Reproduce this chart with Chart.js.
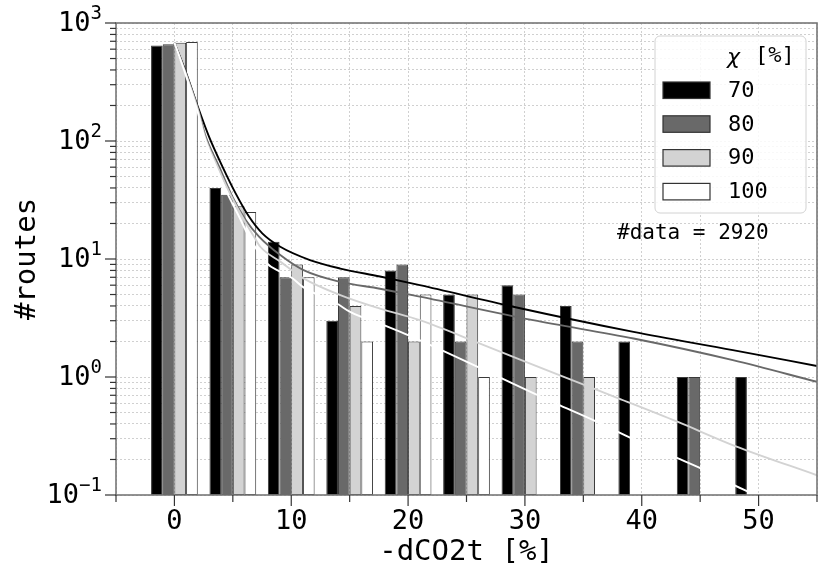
<!DOCTYPE html>
<html>
<head>
<meta charset="utf-8">
<script src="https://cdn.jsdelivr.net/npm/chart.js@4.4.0/dist/chart.umd.min.js"></script>
<style>
  body { margin: 0; background: #fff; }
  #wrap { width: 820px; height: 577px; }
</style>
</head>
<body>
<div id="wrap"><canvas id="chart" width="820" height="577"></canvas></div>
<script>
// bins of -dCO2t [%] and the chi values
var categories = [0, 5, 10, 15, 20, 25, 30, 35, 40, 45, 50];
var seriesLabels = ['70', '80', '90', '100'];

// #routes per bin (null = empty bin)
var routes70  = [646, 40, 14, 3, 8, 5, 6, 4, 2, 1, 1];
var routes80  = [662, 35, 7, 7, 9, 2, 5, 2, null, 1, null];
var routes90  = [680, 28, 9, 4, 2, 5, 1, 1, null, null, null];
var routes100 = [690, 25, 7, 2, 5, 1, null, null, null, null, null];

// fitted curves
var fitX70 = [0, 1, 2, 2.96, 4.1, 5.24, 6.38, 7.52, 9.06, 11.6, 14.2, 17.6, 21, 29, 39.3, 47.8, 55];
var fitY70 = [680, 378, 196, 109, 61, 36, 22.9, 16.5, 12.7, 9.8, 8.3, 7.1, 6.0, 3.94, 2.41, 1.69, 1.24];
var fitX80 = [0, 1, 2, 2.68, 3.82, 4.96, 6.1, 7.24, 9.06, 11.05, 14.2, 17.6, 21, 30.7, 39.3, 47.8, 55];
var fitY80 = [680, 372, 190, 109, 61, 33.8, 21.4, 15.5, 10.8, 8.05, 6.4, 5.6, 4.8, 3.03, 2.12, 1.39, 0.91];
var fitX90 = [0, 1, 2, 2.6, 3.68, 4.75, 5.8, 6.8, 7.35, 9.06, 11.05, 14.2, 17.6, 21, 26, 33, 38, 43, 48, 55];
var fitY90 = [680, 365, 185, 109, 61, 36, 22.9, 15.5, 12.7, 9.5, 6.86, 4.95, 3.8, 3.03, 1.95, 1.03, 0.66, 0.42, 0.26, 0.147];
var fitX100 = [0, 1, 2, 2.54, 3.53, 4.53, 5.53, 6.38, 7.9, 9.06, 10.1, 11.05, 13.9, 15.04, 17.9, 20, 33, 36.2, 39, 43, 45.1, 48, 55];
var fitY100 = [680, 355, 175, 109, 61, 36, 22.9, 15.5, 9.2, 7.8, 6.86, 5.75, 4.2, 3.56, 2.75, 2.26, 0.575, 0.415, 0.306, 0.206, 0.167, 0.12, 0.058];

var yTicks = [0.1, 1, 10, 100, 1000];
var xTicks = [0, 10, 20, 30, 40, 50];
var nData = 2920;

var barColors = ['#000000', '#696969', '#d3d3d3', '#ffffff'];
var lineColors = ['#000000', '#696969', '#d3d3d3', '#ffffff'];
var MONO = '"DejaVu Sans Mono", monospace';

function pts(xs, ys) {
    return xs.map(function (x, i) { return { x: x, y: ys[i] }; });
}

var routes = [routes70, routes80, routes90, routes100];
var fits = [[fitX70, fitY70], [fitX80, fitY80], [fitX90, fitY90], [fitX100, fitY100]];

var datasets = [];
routes.forEach(function (r, k) {
    datasets.push({
        type: 'bar',
        label: seriesLabels[k],
        data: pts(categories, r),
        backgroundColor: barColors[k],
        borderColor: '#3a3a3a',
        borderWidth: 1,
        borderSkipped: false,
        categoryPercentage: 0.8,
        barPercentage: 1.0,
        order: 2
    });
});
fits.forEach(function (f, k) {
    datasets.push({
        type: 'line',
        label: 'fit ' + seriesLabels[k],
        data: pts(f[0], f[1]),
        borderColor: lineColors[k],
        borderWidth: 1.9,
        pointRadius: 0,
        fill: false,
        cubicInterpolationMode: 'monotone',
        order: 1.4 - k * 0.1
    });
});

// frame, tick marks, y labels, legend box and note
var extras = {
    id: 'extras',
    afterDatasetsDraw: function (chart) {
        var a = chart.chartArea, ctx = chart.ctx;
        ctx.save();
        ctx.strokeStyle = '#777';
        ctx.lineWidth = 1.6;
        ctx.strokeRect(a.left, a.top, a.right - a.left, a.bottom - a.top);
        ctx.restore();
    },
    afterDraw: function (chart) {
        var a = chart.chartArea, ctx = chart.ctx;
        var xs = chart.scales.x, ys = chart.scales.y;
        ctx.save();
        ctx.strokeStyle = '#333';
        ctx.lineWidth = 1.2;
        xs.ticks.forEach(function (t) {
            var px = xs.getPixelForValue(t.value);
            var len = xTicks.indexOf(t.value) >= 0 ? 11 : 7;
            ctx.beginPath(); ctx.moveTo(px, a.bottom); ctx.lineTo(px, a.bottom + len); ctx.stroke();
        });
        ys.ticks.forEach(function (t) {
            var py = ys.getPixelForValue(t.value);
            var len = yTicks.indexOf(t.value) >= 0 ? 11 : 6;
            ctx.beginPath(); ctx.moveTo(a.left, py); ctx.lineTo(a.left - len, py); ctx.stroke();
        });

        // y labels as 10 with a raised exponent
        ctx.fillStyle = '#000';
        ctx.textBaseline = 'middle';
        ctx.textAlign = 'left';
        yTicks.forEach(function (v) {
            var py = ys.getPixelForValue(v);
            var ex = String(Math.round(Math.log10(v))).replace('-', '\u2212');
            ctx.font = '19px ' + MONO;
            var ew = ctx.measureText(ex).width;
            ctx.font = '27px ' + MONO;
            var bw = ctx.measureText('10').width;
            var right = a.left - 14;
            ctx.fillText('10', right - ew - bw, py + 1);
            ctx.font = '19px ' + MONO;
            ctx.fillText(ex, right - ew, py - 9);
        });

        // legend
        var bx = 655, by = 36, bw = 151, bh = 177;
        ctx.beginPath();
        ctx.roundRect(bx, by, bw, bh, 5);
        ctx.fillStyle = 'rgba(255,255,255,0.85)';
        ctx.fill();
        ctx.strokeStyle = '#d2d2d2';
        ctx.lineWidth = 1;
        ctx.stroke();

        ctx.fillStyle = '#000';
        ctx.font = 'italic 22px "DejaVu Sans", sans-serif';
        ctx.fillText('χ', 727, 58);
        ctx.font = '22px ' + MONO;
        ctx.fillText('[%]', 755, 56);

        var bars = chart.data.datasets.filter(function (d) { return d.type === 'bar'; });
        ctx.font = '22px ' + MONO;
        bars.forEach(function (d, i) {
            var cy = 90 + i * 33.8;
            ctx.fillStyle = d.backgroundColor;
            ctx.fillRect(663, cy - 8, 47, 16.5);
            ctx.strokeStyle = '#333';
            ctx.lineWidth = 1.2;
            ctx.strokeRect(663, cy - 8, 47, 16.5);
            ctx.fillStyle = '#000';
            ctx.fillText(d.label, 728, cy + 1);
        });

        ctx.font = '21px ' + MONO;
        ctx.fillText('#data = ' + nData, 617, 234);
        ctx.restore();
    }
};

new Chart(document.getElementById('chart'), {
    type: 'bar',
    data: { datasets: datasets },
    plugins: [extras],
    options: {
        responsive: false,
        animation: false,
        layout: { padding: { top: 23, right: 3, left: 0, bottom: 0 } },
        plugins: { legend: { display: false }, tooltip: { enabled: false } },
        scales: {
            x: {
                type: 'linear',
                min: -5, max: 55,
                offset: false,
                grid: {
                    offset: false,
                    color: '#d0d0d0',
                    lineWidth: 1,
                    tickLength: 11,
                    tickColor: 'rgba(0,0,0,0)'
                },
                border: { display: false, dash: [2, 2] },
                ticks: {
                    stepSize: 5,
                    padding: 0,
                    color: '#000',
                    font: { family: MONO, size: 27 },
                    maxRotation: 0,
                    autoSkip: false,
                    callback: function (v) { return xTicks.indexOf(v) >= 0 ? String(v) : ''; }
                },
                title: {
                    display: true,
                    text: '-dCO2t [%]',
                    color: '#000',
                    font: { family: MONO, size: 29 },
                    padding: { top: 0, bottom: 7 }
                },
                afterFit: function (s) { s.height = 82; }
            },
            y: {
                type: 'logarithmic',
                min: 0.1, max: 1000,
                grid: {
                    color: '#d0d0d0',
                    lineWidth: 1,
                    tickLength: 11,
                    tickColor: 'rgba(0,0,0,0)'
                },
                border: { display: false, dash: [2, 2] },
                afterBuildTicks: function (s) {
                    var t = [];
                    for (var i = 0; i < yTicks.length - 1; i++) {
                        for (var m = 1; m < 10; m++) t.push({ value: +(m * yTicks[i]).toPrecision(3) });
                    }
                    t.push({ value: yTicks[yTicks.length - 1] });
                    s.ticks = t;
                },
                ticks: {
                    padding: 4,
                    font: { family: MONO, size: 27 },
                    autoSkip: false,
                    callback: function () { return ''; }
                },
                title: {
                    display: true,
                    text: '#routes',
                    color: '#000',
                    font: { family: MONO, size: 29 },
                    padding: { top: 10, bottom: 0 }
                },
                afterFit: function (s) { s.width = 116; }
            }
        }
    }
});
</script>
</body>
</html>
